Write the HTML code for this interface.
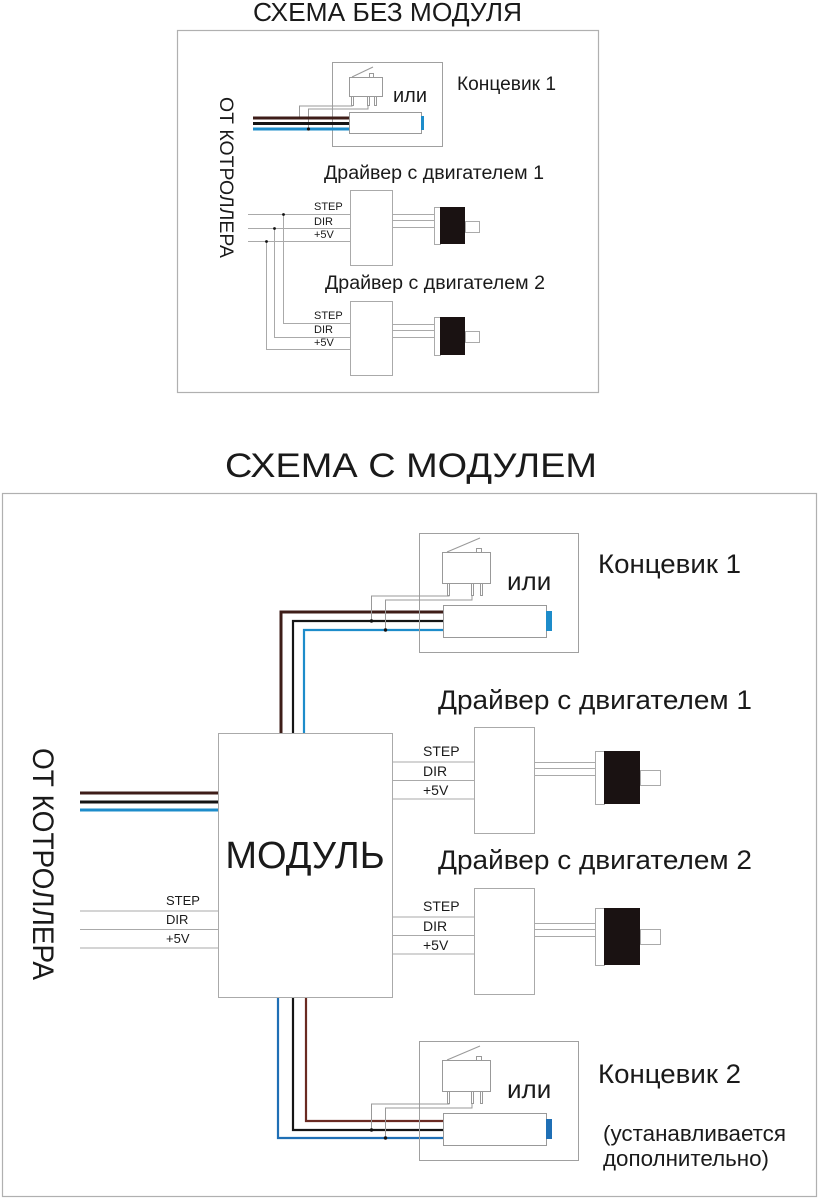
<!DOCTYPE html>
<html><head><meta charset="utf-8"><style>
html,body{margin:0;padding:0;background:#fff;}
svg{display:block;}
text{font-family:"Liberation Sans","DejaVu Sans",sans-serif;fill:#1a1a1a;}
</style></head><body>
<svg width="819" height="1199" viewBox="0 0 819 1199" xmlns="http://www.w3.org/2000/svg">
<rect width="819" height="1199" fill="#fff"/>
<!-- ===== TOP ===== -->
<text x="253" y="21" font-size="26" textLength="269" lengthAdjust="spacingAndGlyphs">СХЕМА БЕЗ МОДУЛЯ</text>
<rect x="177.5" y="30.5" width="421" height="362" fill="none" stroke="#b0b0b0" stroke-width="1.2"/>
<text transform="translate(220,97) rotate(90)" font-size="19" textLength="161" lengthAdjust="spacingAndGlyphs">ОТ КОТРОЛЛЕРА</text>

<rect x="332.5" y="62.5" width="110" height="84" fill="none" stroke="#a0a0a0"/>
<rect x="349.5" y="77.5" width="33" height="19" fill="#fff" stroke="#999"/>
<line x1="352" y1="77" x2="373" y2="67" stroke="#999"/>
<rect x="369.5" y="73.5" width="4" height="4" fill="#fff" stroke="#999"/>
<g stroke="#999" fill="#fff"><rect x="351.5" y="96.5" width="2" height="9"/><rect x="367.5" y="96.5" width="2" height="9"/><rect x="374.5" y="96.5" width="2" height="9"/></g>
<polyline points="352,105 352,106 299.5,106 299.5,118" fill="none" stroke="#999"/>
<polyline points="368,105 368,109 308.5,109 308.5,129" fill="none" stroke="#999"/>
<line x1="253" y1="118" x2="349" y2="118" stroke="#3e1d18" stroke-width="3"/>
<line x1="253" y1="123.5" x2="349" y2="123.5" stroke="#151515" stroke-width="3"/>
<line x1="253" y1="129" x2="349" y2="129" stroke="#1d8cca" stroke-width="3"/>
<circle cx="308.5" cy="129" r="1.6" fill="#111"/>
<rect x="349.5" y="112.5" width="72" height="21" fill="#fff" stroke="#999"/>
<rect x="421" y="116" width="3" height="14" fill="#1d8cca"/>
<text x="393" y="102" font-size="20" textLength="34" lengthAdjust="spacingAndGlyphs">или</text>
<text x="457" y="90" font-size="19" textLength="99" lengthAdjust="spacingAndGlyphs">Концевик 1</text>

<text x="324" y="179" font-size="19" textLength="220" lengthAdjust="spacingAndGlyphs">Драйвер с двигателем 1</text>
<text x="325" y="289" font-size="19" textLength="220" lengthAdjust="spacingAndGlyphs">Драйвер с двигателем 2</text>
<g stroke="#aaa" fill="none">
<line x1="248" y1="214.5" x2="350" y2="214.5"/>
<line x1="248" y1="228.5" x2="350" y2="228.5"/>
<line x1="248" y1="241.5" x2="350" y2="241.5"/>
<polyline points="283.5,214 283.5,323.5 350,323.5"/>
<polyline points="274.5,228 274.5,337.5 350,337.5"/>
<polyline points="266.5,241 266.5,349.5 350,349.5"/>
<rect x="350.5" y="190.5" width="42" height="75" fill="#fff"/>
<rect x="350.5" y="301.5" width="42" height="74" fill="#fff"/>
<line x1="392" y1="214.5" x2="434" y2="214.5"/><line x1="392" y1="220.5" x2="434" y2="220.5"/><line x1="392" y1="227.5" x2="434" y2="227.5"/>
<line x1="392" y1="324.5" x2="434" y2="324.5"/><line x1="392" y1="330.5" x2="434" y2="330.5"/><line x1="392" y1="337.5" x2="434" y2="337.5"/>
<rect x="434.5" y="207.5" width="6" height="37" fill="#fff"/>
<rect x="465.5" y="221.5" width="14" height="11" fill="#fff"/>
<rect x="434.5" y="317.5" width="6" height="38" fill="#fff"/>
<rect x="465.5" y="331.5" width="14" height="11" fill="#fff"/>
</g>
<rect x="440" y="207" width="25" height="37" fill="#1a1212"/>
<rect x="440" y="317" width="25" height="38" fill="#1a1212"/>
<g fill="#111"><circle cx="283.5" cy="214.5" r="1.4"/><circle cx="274.5" cy="228.5" r="1.4"/><circle cx="266.5" cy="241.5" r="1.4"/></g>
<g font-size="11"><text x="314" y="210">STEP</text><text x="314" y="225">DIR</text><text x="314" y="238">+5V</text>
<text x="314" y="319">STEP</text><text x="314" y="333">DIR</text><text x="314" y="346">+5V</text></g>

<!-- ===== BOTTOM ===== -->
<text x="225" y="477" font-size="34" textLength="372" lengthAdjust="spacingAndGlyphs">СХЕМА С МОДУЛЕМ</text>
<rect x="2.5" y="493.5" width="814" height="703" fill="none" stroke="#b0b0b0" stroke-width="1.2"/>
<text transform="translate(33,748) rotate(90)" font-size="30" textLength="232" lengthAdjust="spacingAndGlyphs">ОТ КОТРОЛЛЕРА</text>

<polyline points="281,733 281,612 443,612" fill="none" stroke="#3e1d18" stroke-width="3"/>
<polyline points="293,733 293,621 443,621" fill="none" stroke="#151515" stroke-width="2.2"/>
<polyline points="304,733 304,630 443,630" fill="none" stroke="#1d8cca" stroke-width="2.2"/>
<polyline points="306,997 306,1121 443,1121" fill="none" stroke="#6a2a22" stroke-width="2.2"/>
<polyline points="293,997 293,1130 443,1130" fill="none" stroke="#151515" stroke-width="2.2"/>
<polyline points="278,997 278,1138 443,1138" fill="none" stroke="#1f6fb5" stroke-width="2.2"/>
<line x1="80" y1="793" x2="218" y2="793" stroke="#3e1d18" stroke-width="3"/>
<line x1="80" y1="802" x2="218" y2="802" stroke="#151515" stroke-width="3"/>
<line x1="80" y1="810" x2="218" y2="810" stroke="#1d8cca" stroke-width="3"/>
<g stroke="#aaa"><line x1="80" y1="911" x2="218" y2="911"/><line x1="80" y1="929.5" x2="218" y2="929.5"/><line x1="80" y1="948" x2="218" y2="948"/></g>
<g font-size="13"><text x="166" y="905">STEP</text><text x="166" y="924">DIR</text><text x="166" y="943">+5V</text></g>
<rect x="218.5" y="733.5" width="174" height="264" fill="#fff" stroke="#aaa"/>
<text x="305" y="868" font-size="38" text-anchor="middle">МОДУЛЬ</text>

<g>
<rect x="419.5" y="533.5" width="159" height="119" fill="none" stroke="#a0a0a0"/>
<rect x="442.5" y="552.5" width="48" height="31" fill="#fff" stroke="#999"/>
<line x1="447" y1="552" x2="480" y2="538" stroke="#999"/>
<rect x="476.5" y="548.5" width="5" height="4" fill="#fff" stroke="#999"/>
<g stroke="#999" fill="#fff"><rect x="447.5" y="583.5" width="2" height="12"/><rect x="471.5" y="583.5" width="2" height="12"/><rect x="480.5" y="583.5" width="2" height="12"/></g>
<polyline points="449,595 449,596 371.5,596 371.5,621" fill="none" stroke="#999"/>
<polyline points="472,595 472,600 385.5,600 385.5,630" fill="none" stroke="#999"/>
<circle cx="371.5" cy="621" r="1.7" fill="#111"/>
<circle cx="385.5" cy="630" r="1.7" fill="#111"/>
<rect x="443.5" y="605.5" width="103" height="32" fill="#fff" stroke="#999"/>
<rect x="546" y="611" width="6" height="20" fill="#1d8cca"/>
<text x="507" y="590" font-size="26">или</text>
</g>
<g transform="translate(0,508)">
<rect x="419.5" y="533.5" width="159" height="119" fill="none" stroke="#a0a0a0"/>
<rect x="442.5" y="552.5" width="48" height="31" fill="#fff" stroke="#999"/>
<line x1="447" y1="552" x2="480" y2="538" stroke="#999"/>
<rect x="476.5" y="548.5" width="5" height="4" fill="#fff" stroke="#999"/>
<g stroke="#999" fill="#fff"><rect x="447.5" y="583.5" width="2" height="12"/><rect x="471.5" y="583.5" width="2" height="12"/><rect x="480.5" y="583.5" width="2" height="12"/></g>
<polyline points="449,595 449,596 371.5,596 371.5,622" fill="none" stroke="#999"/>
<polyline points="472,595 472,600 385.5,600 385.5,630" fill="none" stroke="#999"/>
<circle cx="371.5" cy="622" r="1.7" fill="#111"/>
<circle cx="385.5" cy="630" r="1.7" fill="#111"/>
<rect x="443.5" y="605.5" width="103" height="32" fill="#fff" stroke="#999"/>
<rect x="546" y="611" width="6" height="20" fill="#1f6fb5"/>
<text x="507" y="590" font-size="26">или</text>
</g>
<text x="598" y="573" font-size="27" textLength="143" lengthAdjust="spacingAndGlyphs">Концевик 1</text>
<text x="598" y="1083" font-size="27" textLength="143" lengthAdjust="spacingAndGlyphs">Концевик 2</text>
<text x="603" y="1141" font-size="22" textLength="183" lengthAdjust="spacingAndGlyphs">(устанавливается</text>
<text x="603" y="1166" font-size="22" textLength="166" lengthAdjust="spacingAndGlyphs">дополнительно)</text>

<text x="438" y="709" font-size="27" textLength="314" lengthAdjust="spacingAndGlyphs">Драйвер с двигателем 1</text>
<text x="438" y="869" font-size="27" textLength="314" lengthAdjust="spacingAndGlyphs">Драйвер с двигателем 2</text>
<g stroke="#aaa" fill="none">
<line x1="392" y1="762" x2="474" y2="762"/><line x1="392" y1="780.5" x2="474" y2="780.5"/><line x1="392" y1="799" x2="474" y2="799"/>
<line x1="392" y1="917" x2="474" y2="917"/><line x1="392" y1="935.5" x2="474" y2="935.5"/><line x1="392" y1="954" x2="474" y2="954"/>
<rect x="474.5" y="727.5" width="60" height="106" fill="#fff"/>
<rect x="474.5" y="888.5" width="60" height="106" fill="#fff"/>
<line x1="534" y1="762.5" x2="595" y2="762.5"/><line x1="534" y1="768.5" x2="595" y2="768.5"/><line x1="534" y1="775.5" x2="595" y2="775.5"/>
<line x1="534" y1="923.5" x2="595" y2="923.5"/><line x1="534" y1="929.5" x2="595" y2="929.5"/><line x1="534" y1="936.5" x2="595" y2="936.5"/>
<rect x="595.5" y="751.5" width="9" height="53" fill="#fff"/>
<rect x="640.5" y="770.5" width="20" height="15" fill="#fff"/>
<rect x="595.5" y="908.5" width="9" height="57" fill="#fff"/>
<rect x="640.5" y="929.5" width="20" height="15" fill="#fff"/>
</g>
<rect x="604" y="751" width="36" height="53" fill="#1a1212"/>
<rect x="604" y="908" width="36" height="57" fill="#1a1212"/>
<g font-size="14"><text x="423" y="756">STEP</text><text x="423" y="776">DIR</text><text x="423" y="795">+5V</text>
<text x="423" y="911">STEP</text><text x="423" y="931">DIR</text><text x="423" y="950">+5V</text></g>
</svg>
</body></html>
